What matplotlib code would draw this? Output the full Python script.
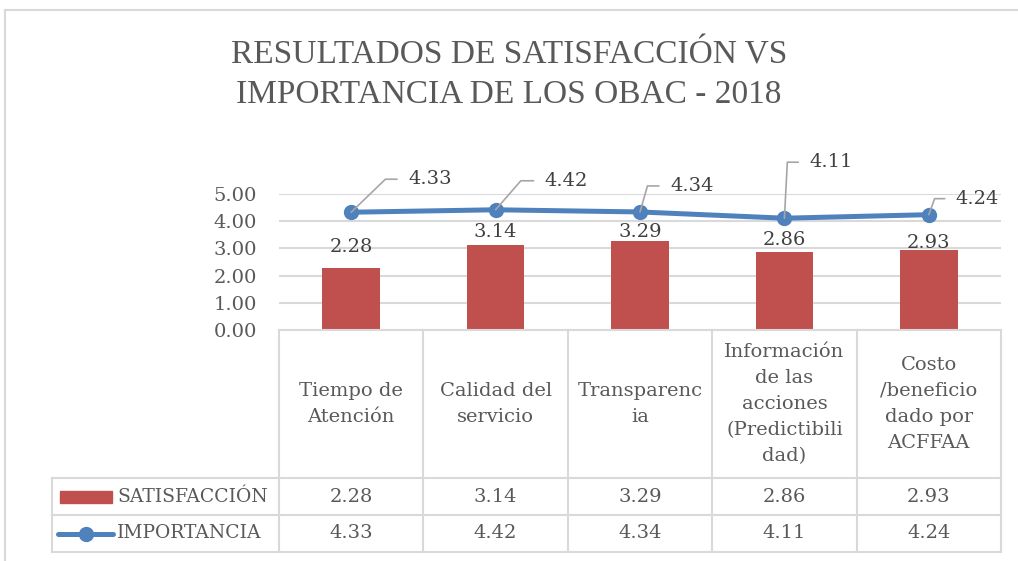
import numpy as np
import matplotlib
matplotlib.use("Agg")
import matplotlib.pyplot as plt
from matplotlib.lines import Line2D
from matplotlib.patches import Rectangle

categorias = ["Tiempo de\nAtención", "Calidad del\nservicio", "Transparenc\nia",
              "Información\nde las\nacciones\n(Predictibili\ndad)",
              "Costo\n/beneficio\ndado por\nACFFAA"]
satisfaccion = [2.28, 3.14, 3.29, 2.86, 2.93]
importancia = [4.33, 4.42, 4.34, 4.11, 4.24]
serie_nombres = ["SATISFACCIÓN", "IMPORTANCIA"]
titulo = "RESULTADOS DE SATISFACCIÓN VS\nIMPORTANCIA DE LOS OBAC - 2018"

ROJO = "#c0504d"
AZUL = "#4f81bd"
GRIS = "#d9d9d9"
TXT = "#595959"
W, H = 1018, 561

plt.rcParams["font.family"] = ["DejaVu Serif"]

fig = plt.figure(figsize=(W / 100, H / 100), dpi=100)

def fx(px):
    return px / W

def fy(py):
    return 1 - py / H

# marco del grafico
fig.add_artist(Line2D([fx(5), fx(5)], [fy(10), 0], color=GRIS, lw=1.5))
fig.add_artist(Line2D([fx(5), 1], [fy(10), fy(10)], color=GRIS, lw=1.5))

fig.text(0.5, fy(75), titulo, ha="center", va="center", fontsize=24,
         family="Liberation Serif", color=TXT, linespacing=1.35)

# area del grafico
x0, x1, yb, yt = 279, 1001, 330, 194
ax = fig.add_axes([fx(x0), fy(yb), fx(x1) - fx(x0), fy(yt) - fy(yb)])
n = len(categorias)
x = np.arange(n)
ax.set_xlim(-0.5, n - 0.5)
ax.set_ylim(0, 5)
ax.set_yticks(np.arange(0, 6, 1))
ax.set_yticklabels([f"{v:.2f}" for v in np.arange(0, 6, 1)])
ax.tick_params(axis="y", length=0, labelsize=14, labelcolor=TXT, pad=16)
ax.set_xticks([])
for s in ax.spines.values():
    s.set_visible(False)
ax.grid(axis="y", color=GRIS, lw=1.5)
ax.set_axisbelow(True)

bars = ax.bar(x, satisfaccion, width=0.4, color=ROJO, zorder=2)
# separacion (px) entre la barra y su etiqueta
sep_barra = [16, 8, 4, 7, 2]
for xi, v, sp in zip(x, satisfaccion, sep_barra):
    ax.annotate(f"{v:.2f}", (xi, v), xytext=(0, sp * 0.72), textcoords="offset points",
                ha="center", va="baseline", fontsize=14, color="#404040")

ax.plot(x, importancia, color=AZUL, lw=3.6, marker="o", ms=10, zorder=3, clip_on=False)

# desplazamiento de etiquetas (px) y angulo de la guia
etiq_off = [(57, 33, 44), (49, 29, 49), (30, 26, 74), (25, 56, 87), (27, 16, 70)]
for xi, v, (dx, dy, ang) in zip(x, importancia, etiq_off):
    ax.annotate(f"{v:.2f}", (xi, v), xytext=(dx * 0.72, dy * 0.72),
                textcoords="offset points", ha="left", va="center",
                fontsize=14, color="#404040", annotation_clip=False,
                arrowprops=dict(arrowstyle="-", color="#a6a6a6", lw=1.2,
                                shrinkA=6, shrinkB=0,
                                connectionstyle=f"angle,angleA=0,angleB={ang},rad=0"))

# tabla de datos
cat_w = (x1 - x0) / n
tl = 52
tb = 552
tax = fig.add_axes([fx(tl), fy(tb), fx(x1) - fx(tl), fy(yb) - fy(tb)])
left = -0.5 - (x0 - tl) / cat_w
tax.set_xlim(left, n - 0.5)
tax.set_ylim(tb - yb, 0)
tax.axis("off")
r1, r2, r3 = 148, 185, 222
lk = dict(color=GRIS, lw=1.5, clip_on=False)
tax.plot([-0.5, n - 0.5], [0, 0], **lk)
for yy in (r1, r2, r3):
    tax.plot([left, n - 0.5], [yy, yy], **lk)
for k in range(n + 1):
    tax.plot([k - 0.5, k - 0.5], [0, r3], **lk)
tax.plot([left, left], [r1, r3], **lk)

fs = 14
for xi, c in zip(x, categorias):
    tax.text(xi, r1 / 2, c, ha="center", va="center", fontsize=fs,
             color=TXT, linespacing=1.58)
for xi, a, b in zip(x, satisfaccion, importancia):
    tax.text(xi, (r1 + r2) / 2, f"{a:.2f}", ha="center", va="center", fontsize=fs, color=TXT)
    tax.text(xi, (r2 + r3) / 2, f"{b:.2f}", ha="center", va="center", fontsize=fs, color=TXT)

# claves de leyenda
u = 1 / cat_w
tax.add_patch(Rectangle((left + 8 * u, (r1 + r2) / 2 - 6), 52 * u, 12, color=ROJO))
tax.plot([left + 6 * u, left + 61 * u], [(r2 + r3) / 2] * 2, color=AZUL, lw=3.6,
         solid_capstyle="round")
tax.plot([left + 34 * u], [(r2 + r3) / 2], marker="o", ms=10, color=AZUL)
tax.text(left + 65 * u, (r1 + r2) / 2, serie_nombres[0], ha="left", va="center",
         fontsize=13.5, color=TXT)
tax.text(left + 65 * u, (r2 + r3) / 2, serie_nombres[1], ha="left", va="center",
         fontsize=13.5, color=TXT)

fig.savefig("out.png", dpi=100, facecolor="white")
